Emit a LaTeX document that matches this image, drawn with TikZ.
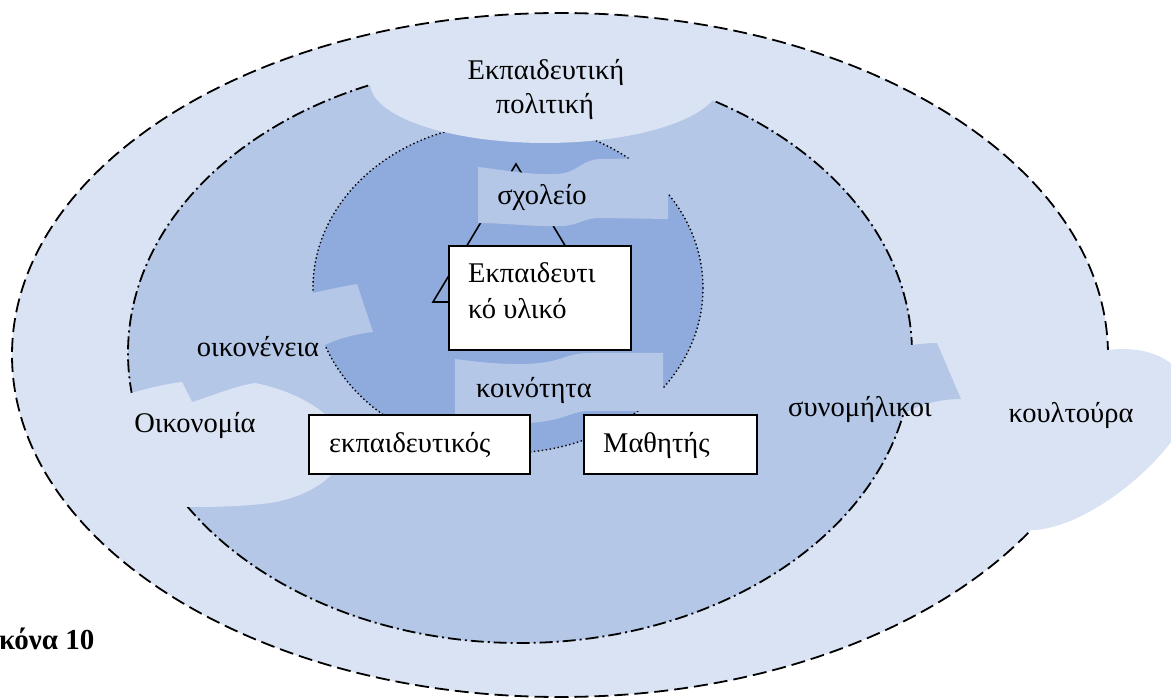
\documentclass[tikz,border=0pt]{standalone}
\usepackage{fontspec}
\setmainfont{Liberation Serif}
\definecolor{ringout}{RGB}{218,227,243}
\definecolor{ringmid}{RGB}{180,199,231}
\definecolor{ringin}{RGB}{143,170,220}
\begin{document}
\begin{tikzpicture}[x=1pt,y=-1pt,
  lbl/.style={inner sep=0pt, font=\fontsize{28.5}{34}\selectfont},
  figcaption/.style={inner sep=0pt, font=\fontsize{29}{34}\selectfont\bfseries},
  box/.style={draw=black, line width=1.8pt, fill=white, inner sep=0pt, anchor=north west},
  outerline/.style={line width=1.8pt, dash pattern=on 14pt off 6pt},
  midline/.style={line width=1.8pt, dash pattern=on 13pt off 4pt on 2pt off 4pt},
  innerline/.style={line width=1.4pt, dash pattern=on 1.4pt off 2.6pt},
  tri/.style={draw=black, line width=1.6pt, line join=miter}
]
\useasboundingbox (0,0) rectangle (1171,700);
\clip (0,0) rectangle (1171,700);
\fill[white] (0,0) rectangle (1171,700);

% outer ring
\path[fill=ringout, draw=black, outerline] (560,355) ellipse [x radius=548, y radius=342];
% culture cloud
\fill[ringout] (1000,350) -- (1107,350) .. controls (1150,345) and (1185,360) .. (1190,400)
  .. controls (1190,440) and (1100,525) .. (1035,530) -- (1000,530) -- cycle;
% middle ring
\path[fill=ringmid, draw=black, midline] (520,353) ellipse [x radius=392, y radius=290];
% inner ring
\path[fill=ringin, draw=black, innerline] (508,288) ellipse [x radius=195, y radius=165];

% education policy cloud
\fill[ringout] (370,45) -- (370,83) -- plot[domain=180:13, samples=60] ({545+175*cos(\x)},{83+60*sin(\x)}) -- (716,45) -- cycle;
% economy shape
\fill[ringout] (100,394) -- (128,394) .. controls (145,389) and (165,384) .. (182,382) -- (192,402)
  .. controls (212,396) and (235,386) .. (255,383) .. controls (300,392) and (335,415) .. (345,440)
  .. controls (350,465) and (320,495) .. (270,503) .. controls (240,507) and (205,507) .. (183,507)
  -- (100,507) -- cycle;
% peers tab
\fill[ringmid] (888,345) -- (912,345) .. controls (920,344) and (928,343) .. (937,343) -- (961,399)
  .. controls (940,399) and (915,405) .. (903,415) -- (888,415) -- cycle;
% family tab
\fill[ringmid] (300,296) -- (313,293) .. controls (330,289) and (345,286) .. (357,284) -- (373,332)
  .. controls (355,334) and (337,339) .. (325,345) -- (300,350) -- cycle;

% triangle
\coordinate (ta) at (516,164);
\coordinate (tb) at (433,302);
\coordinate (tc) at (599,302);
\path[tri] (ta) -- (tb) -- (tc) -- cycle;

% school banner
\fill[ringmid] (478,167) .. controls (505,170) and (540,177) .. (565,173)
  .. controls (578,170) and (583,160) .. (600,159) -- (668,158) -- (668,219) -- (600,218)
  .. controls (583,218) and (578,226) .. (560,226) .. controls (535,227) and (505,223) .. (478,223) -- cycle;
% community banner
\fill[ringmid] (455,359) .. controls (485,363) and (525,367) .. (552,361)
  .. controls (565,358) and (572,353) .. (590,353) -- (663,353) -- (663,411) -- (590,411)
  .. controls (575,411) and (567,417) .. (552,420) .. controls (525,426) and (485,423) .. (455,420) -- cycle;

% boxes
\node[box, minimum width=182pt, minimum height=104pt] (ylikobox) at (448,245) {};
\node[box, minimum width=221pt, minimum height=59pt] (teacherbox) at (308,414) {};
\node[box, minimum width=173pt, minimum height=59pt] (pupilbox) at (583,414) {};

% labels
\node[lbl, anchor=base] (pol1) at (546,80) {Εκπαιδευτική};
\node[lbl, anchor=base] (pol2) at (545,114) {πολιτική};
\node[lbl, anchor=base] (school) at (542,205) {σχολείο};
\node[lbl, anchor=base west] (yl1) at (468,283) {Εκπαιδευτι};
\node[lbl, anchor=base west] (yl2) at (468,319) {κό υλικό};
\node[lbl, anchor=base] (comm) at (534,398) {κοινότητα};
\node[lbl, anchor=base] (fam) at (258,357) {οικονένεια};
\node[lbl, anchor=base] (econ) at (195,433) {Οικονομία};
\node[lbl, anchor=base west] (teacher) at (329,453) {εκπαιδευτικός};
\node[lbl, anchor=base west] (pupil) at (603,453) {Μαθητής};
\node[lbl, anchor=base] (peers) at (860,417) {συνομήλικοι};
\node[lbl, anchor=base] (cult) at (1071,423) {κουλτούρα};
\node[figcaption, anchor=base west] (fig) at (-1,649) {κόνα 10};
\end{tikzpicture}
\end{document}
